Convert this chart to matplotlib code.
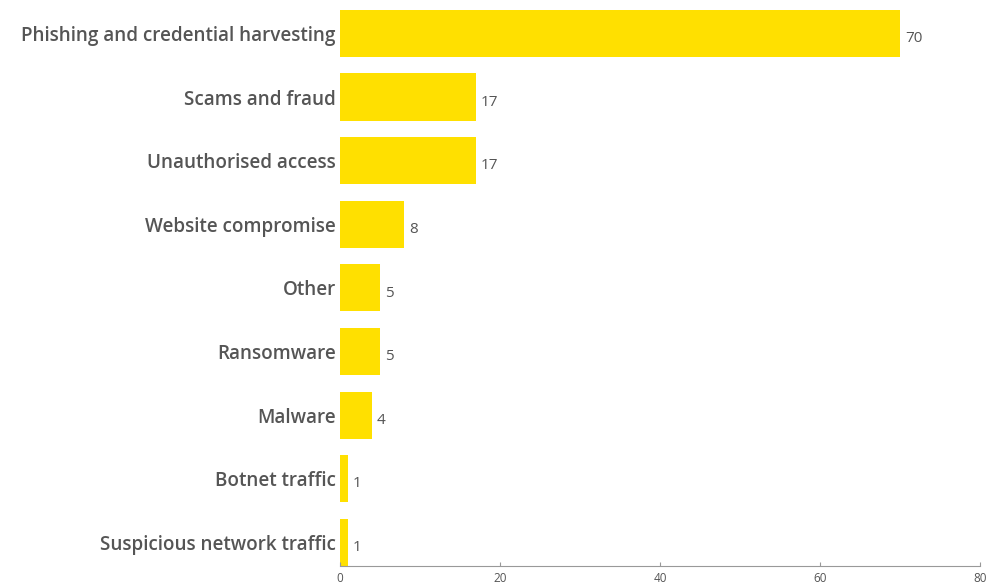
import matplotlib
matplotlib.use("Agg")
import matplotlib.pyplot as plt

categories = ["Phishing and credential harvesting", "Scams and fraud", "Unauthorised access",
              "Website compromise", "Other", "Ransomware", "Malware", "Botnet traffic",
              "Suspicious network traffic"]
values = [70, 17, 17, 8, 5, 5, 4, 1, 1]
xticks = [0, 20, 40, 60, 80]

YELLOW = "#FFE000"
GRAY = "#555555"
plt.rcParams['font.family'] = ['Open Sans', 'DejaVu Sans']

fig = plt.figure(figsize=(9.87, 5.84), dpi=100)
ax = fig.add_axes([340/987, 1 - 566/584, 640/987, 566/584])
y = list(range(len(categories)))
ax.barh(y, values, height=0.74, color=YELLOW)
for yi, v in zip(y, values):
    ax.text(v + 0.6, yi + 0.08, str(v), va="center", ha="left", fontsize=11, color=GRAY)
ax.set_yticks(y)
ax.set_yticklabels(categories, fontsize=13.6, fontweight="semibold", color=GRAY)
ax.set_ylim(8.37, -0.525)
ax.set_xlim(0, 80)
ax.set_xticks(xticks)
ax.set_xticklabels([str(t) for t in xticks], fontsize=8.5, color=GRAY)
for s in ["top", "right", "left"]:
    ax.spines[s].set_visible(False)
ax.spines["bottom"].set_color("#999999")
ax.tick_params(axis="y", length=0, pad=3)
ax.tick_params(axis="x", direction="in", length=3, color="#999999", pad=4)
fig.savefig("out.png", dpi=100)
